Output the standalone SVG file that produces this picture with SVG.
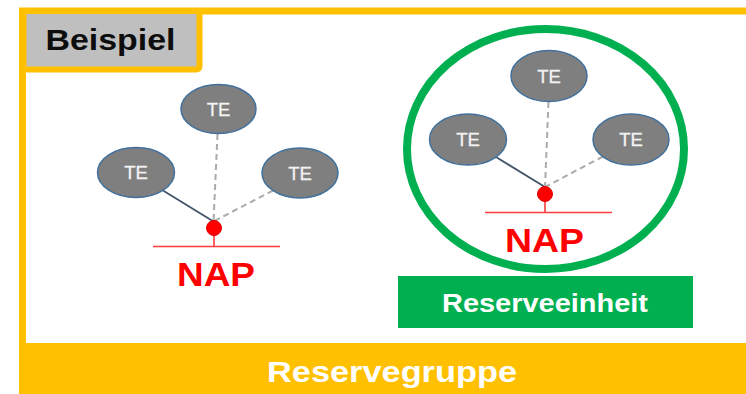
<svg xmlns="http://www.w3.org/2000/svg" width="746" height="394" viewBox="0 0 746 394">
  <style>
    .te ellipse { fill: #7F7F7F; stroke: #41719C; stroke-width: 1.5; }
    .te text { font-family: "Liberation Sans", Arial, sans-serif; font-size: 18.5px; fill: #F2F2F2; text-anchor: middle; stroke: #F2F2F2; stroke-width: 0.3; }
    .solid { stroke: #44546A; stroke-width: 1.8; fill: none; }
    .dash { stroke: #ABABAB; stroke-width: 2; stroke-dasharray: 6 4; fill: none; }
    .red { stroke: #FF3B3B; stroke-width: 1.6; fill: none; }
    .dot { fill: #FF0000; stroke: #E00000; stroke-width: 1; }
    .nap { font-family: "Liberation Sans", Arial, sans-serif; font-weight: bold; font-size: 33px; fill: #FF0000; }
    .label { font-family: "Liberation Sans", Arial, sans-serif; font-weight: bold; }
  </style>
  <rect x="0" y="0" width="746" height="394" fill="#FFFFFF"/>

  <g id="frame">
    <rect x="22.5" y="11" width="760" height="345" fill="#FFFFFF" stroke="#FFC000" stroke-width="7"/>
  </g>

  <g id="reservegruppe">
    <rect x="19" y="343" width="727" height="51" fill="#FFC000"/>
    <text class="label" x="267" y="381.5" font-size="29" fill="#FFFFFF" textLength="250" lengthAdjust="spacingAndGlyphs">Reservegruppe</text>
  </g>

  <g id="beispiel">
    <rect x="23.5" y="11" width="176" height="58.5" rx="3" fill="#BFBFBF" stroke="#FFC000" stroke-width="6"/>
    <text class="label" x="45.5" y="50" font-size="30" fill="#0D0D0D" textLength="130" lengthAdjust="spacingAndGlyphs">Beispiel</text>
  </g>

  <g id="reserveeinheit-circle">
    <ellipse cx="545.5" cy="149" rx="138.5" ry="120" fill="none" stroke="#00B050" stroke-width="8"/>
  </g>

  <g id="connectors">
    <line class="solid" x1="163" y1="190.5" x2="213.5" y2="221.5"/>
    <line class="dash" x1="217.5" y1="134" x2="213.5" y2="221.5"/>
    <line class="dash" x1="273" y1="190.5" x2="213.5" y2="221.5"/>
    <line class="red" x1="214" y1="235" x2="214" y2="246.5"/>
    <line class="red" x1="153" y1="246.5" x2="280" y2="246.5"/>

    <line class="solid" x1="496" y1="157" x2="545" y2="187"/>
    <line class="dash" x1="548.5" y1="102" x2="545" y2="187"/>
    <line class="dash" x1="603" y1="156.5" x2="545" y2="187"/>
    <line class="red" x1="545" y1="201" x2="545" y2="212.5"/>
    <line class="red" x1="485" y1="212.5" x2="612" y2="212.5"/>
  </g>

  <g id="te-left-1" class="te">
    <ellipse cx="136" cy="172.5" rx="38.5" ry="25"/>
    <text x="136" y="179">TE</text>
  </g>
  <g id="te-left-2" class="te">
    <ellipse cx="218.5" cy="109" rx="37.5" ry="24.5"/>
    <text x="218.5" y="115.5">TE</text>
  </g>
  <g id="te-left-3" class="te">
    <ellipse cx="300" cy="173" rx="38" ry="25"/>
    <text x="300" y="179.5">TE</text>
  </g>
  <g id="nap-left">
    <circle class="dot" cx="214" cy="228" r="7.5"/>
    <text class="nap" x="177" y="285.5" textLength="78" lengthAdjust="spacingAndGlyphs">NAP</text>
  </g>

  <g id="te-right-1" class="te">
    <ellipse cx="468" cy="139.5" rx="38.5" ry="25.5"/>
    <text x="468" y="146">TE</text>
  </g>
  <g id="te-right-2" class="te">
    <ellipse cx="549" cy="76" rx="38" ry="25.5"/>
    <text x="549" y="82.5">TE</text>
  </g>
  <g id="te-right-3" class="te">
    <ellipse cx="631" cy="139.5" rx="38" ry="25.5"/>
    <text x="631" y="146">TE</text>
  </g>
  <g id="nap-right">
    <circle class="dot" cx="545" cy="194" r="7.5"/>
    <text class="nap" x="505" y="251.5" textLength="79" lengthAdjust="spacingAndGlyphs">NAP</text>
  </g>

  <g id="reserveeinheit">
    <rect x="398" y="276" width="295" height="52" fill="#00B050"/>
    <text class="label" x="442" y="311.5" font-size="25.5" fill="#FFFFFF" textLength="206" lengthAdjust="spacingAndGlyphs">Reserveeinheit</text>
  </g>
</svg>
